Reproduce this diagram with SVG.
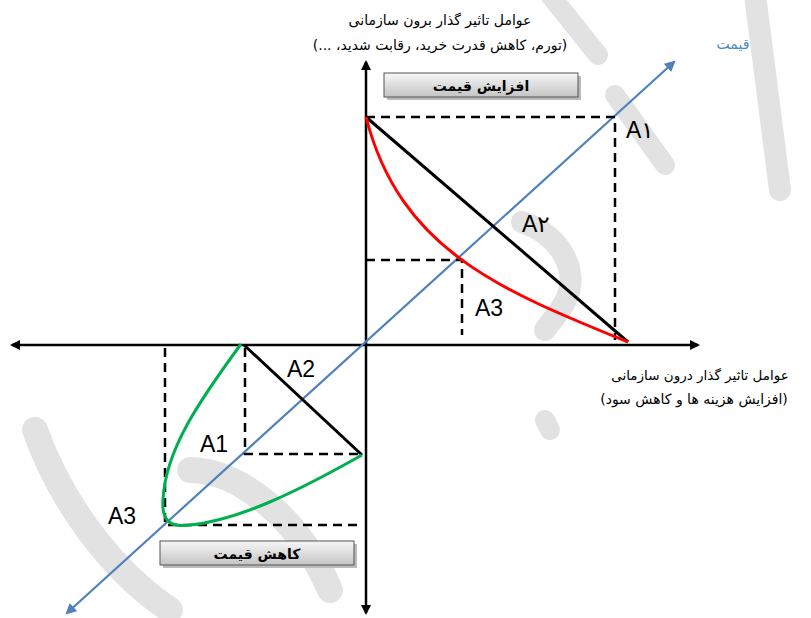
<svg xmlns="http://www.w3.org/2000/svg" width="811" height="618" viewBox="0 0 811 618">
<defs>
<marker id="ah" viewBox="0 0 10 10" refX="8" refY="5" markerWidth="4" markerHeight="4" orient="auto-start-reverse"><path d="M0,0 L10,5 L0,10 z" fill="#000"/></marker>
<marker id="ahb" viewBox="0 0 10 10" refX="8" refY="5" markerWidth="5" markerHeight="5" orient="auto-start-reverse"><path d="M0,0 L10,5 L0,10 z" fill="#4f81bd"/></marker>
<linearGradient id="bg" x1="0" y1="0" x2="0" y2="1"><stop offset="0" stop-color="#f7f7f7"/><stop offset="1" stop-color="#c4c4c4"/></linearGradient>
</defs>
<style>
.wm{fill:none;stroke:#e2e2e2;stroke-linecap:round}
.dash{fill:none;stroke:#000;stroke-width:2.5;stroke-dasharray:9,6}
.solid{fill:none;stroke:#000;stroke-width:3}
.ax{fill:none;stroke:#000;stroke-width:2.5}
.fa{font-family:"DejaVu Sans","Noto Sans",sans-serif;direction:rtl;text-anchor:middle}
.lbl{font-family:"Liberation Sans","DejaVu Sans",sans-serif;font-size:23px;fill:#000}
.box{fill:url(#bg);stroke:#555;stroke-width:1}
.shadow{fill:#bbb}
</style>
<rect width="811" height="618" fill="#fff"/>
<g id="watermark">
<path class="wm" stroke-width="20" d="M550,-5 L598,55"/>
<path class="wm" stroke-width="22" d="M755,-5 L780,190"/>
<path class="wm" stroke-width="20" d="M615,95 L665,165"/>
<path class="wm" stroke-width="22" d="M522,222 C560,235 580,270 566,300 C558,315 550,322 545,330"/>
<path class="wm" stroke-width="20" d="M545,420 L550,430"/>
<path class="wm" stroke-width="26" d="M35,430 C60,500 110,570 170,610"/>
<path class="wm" stroke-width="26" d="M190,470 C240,470 300,520 330,590"/>
</g>
<g id="connectors">
<line class="ax" x1="366" y1="613" x2="366" y2="62" marker-end="url(#ah)" marker-start="url(#ah)"/>
<line class="ax" x1="12" y1="345" x2="698" y2="345" marker-end="url(#ah)" marker-start="url(#ah)"/>
<line x1="67" y1="613" x2="674" y2="62" stroke="#4f81bd" stroke-width="2.2" marker-end="url(#ahb)" marker-start="url(#ahb)"/>
<path class="dash" d="M366,117 H615 V340"/>
<path class="dash" d="M366,260 H462 V335"/>
<path class="dash" d="M245,348 V454 H362"/>
<path class="dash" d="M165,348 V525 H362"/>
<line class="solid" x1="366" y1="117" x2="628" y2="342"/>
<line class="solid" x1="244" y1="345" x2="362" y2="455"/>
<path fill="none" stroke="#ff0000" stroke-width="3" d="M366,117 C400,250 500,290 628,342"/>
<path fill="none" stroke="#00b050" stroke-width="3" d="M241,344 C200,400 165,450 163,500 C161,525 175,527 190,525 C240,520 300,490 362,455"/>
</g>
<g id="box-up">
<rect class="shadow" x="387" y="76" width="194" height="24"/>
<rect class="box" x="384" y="73" width="194" height="24"/>
<text class="fa" x="481" y="91" font-size="14" font-weight="bold">افزایش قیمت</text>
</g>
<g id="box-down">
<rect class="shadow" x="163" y="544" width="194" height="24"/>
<rect class="box" x="160" y="541" width="194" height="24"/>
<text class="fa" x="257" y="559" font-size="14" font-weight="bold">کاهش قیمت</text>
</g>
<g id="label-top">
<text class="fa" x="440" y="25" font-size="14">عوامل تاثیر گذار برون سازمانی</text>
<text class="fa" x="440" y="50" font-size="14">(تورم، کاهش قدرت خرید، رقابت شدید، ...)</text>
</g>
<g id="label-right">
<text class="fa" x="700" y="380" font-size="13.5">عوامل تاثیر گذار درون سازمانی</text>
<text class="fa" x="694" y="404" font-size="14">(افزایش هزینه ها و کاهش سود)</text>
</g>
<g id="label-price">
<text class="fa" x="733" y="49" font-size="14" fill="#4a86c8">قیمت</text>
</g>
<g id="area-labels">
<text class="lbl" x="626" y="138">A۱</text>
<text class="lbl" x="522" y="232">A۲</text>
<text class="lbl" x="475" y="316">A3</text>
<text class="lbl" x="287" y="377">A2</text>
<text class="lbl" x="200" y="452">A1</text>
<text class="lbl" x="108" y="524">A3</text>
</g>
</svg>
